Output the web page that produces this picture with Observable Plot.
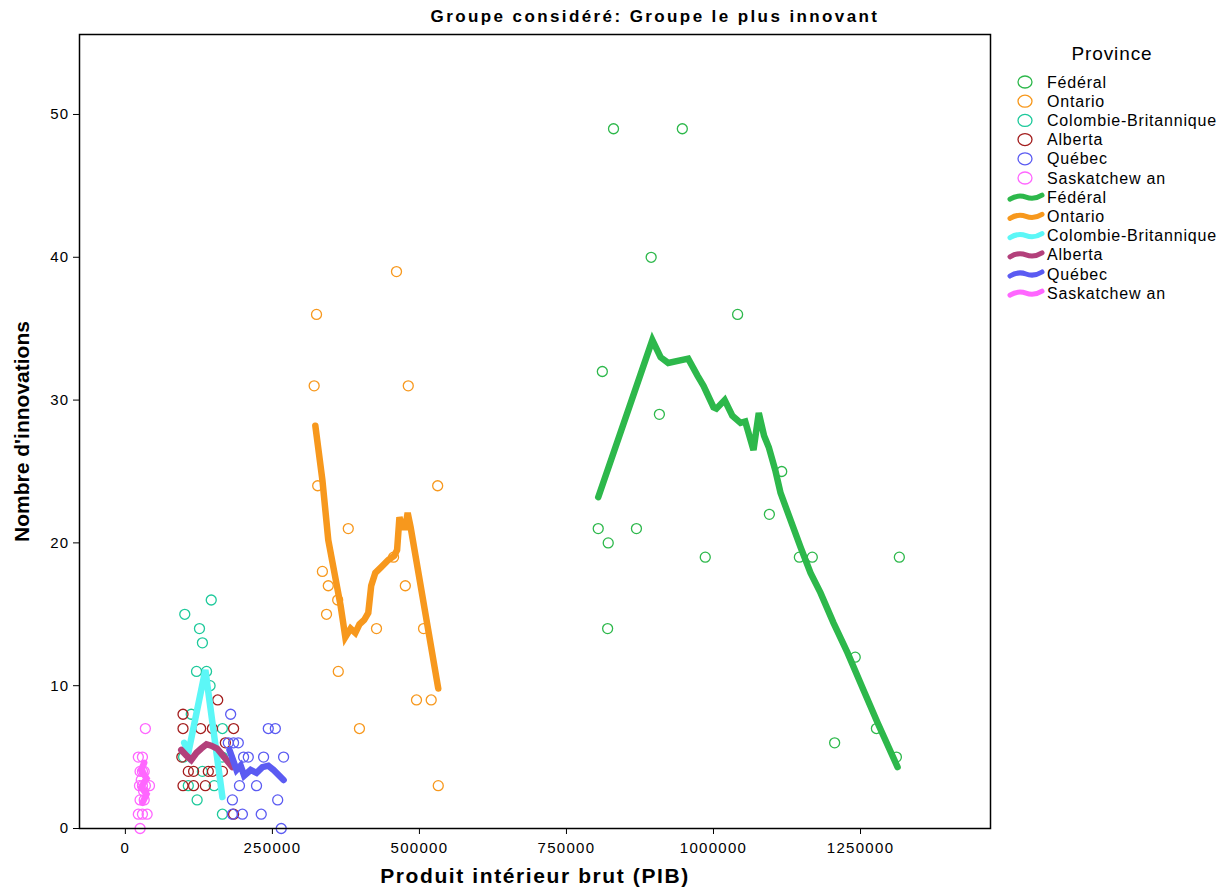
<!DOCTYPE html>
<html>
<head>
<meta charset="utf-8">
<script src="https://cdn.jsdelivr.net/npm/d3@7"></script>
<script src="https://cdn.jsdelivr.net/npm/@observablehq/plot@0.6"></script>
<style>
  html, body { margin: 0; padding: 0; background: white; }
  #wrap { position: relative; width: 1222px; height: 896px; font-family: "Liberation Sans", Arial, sans-serif; }
  #title { position: absolute; top: 7px; left: 355px; width: 600px; text-align: center; font-weight: bold; font-size: 17px; letter-spacing: 2.4px; }
  #legend { position: absolute; left: 0; top: 0; }
</style>
</head>
<body>
<div id="wrap">
  <div id="chart"></div>
  <div id="title">Groupe considéré: Groupe le plus innovant</div>
  <svg id="legend" width="1222" height="320"></svg>
</div>
<script>
// ---- Data ----
const provinces = ["Fédéral", "Ontario", "Colombie-Britannique", "Alberta", "Québec", "Saskatchewan"];
const legendLabels = ["Fédéral", "Ontario", "Colombie-Britannique", "Alberta", "Québec", "Saskatchew an"];
const dotColors = ["#2DB84B", "#F7981D", "#1DC99B", "#A31D1D", "#5B5BF2", "#FF66FF"];
const lineColors = ["#2DB84B", "#F7981D", "#5CF7F7", "#B3407B", "#5B5BF2", "#FF66FF"];

const xTicks = [0, 250000, 500000, 750000, 1000000, 1250000];
const yTicks = [0, 10, 20, 30, 40, 50];

// observed points [PIB, innovations]
const fedPoints = [[830000,49],[947000,49],[894000,40],[1041000,36],[811000,32],[908000,29],[1116000,25],[1095000,22],[804000,21],[869000,21],[821000,20],[986000,19],[1146000,19],[1168000,19],[1316000,19],[820000,14],[1241000,12],[1277000,7],[1206000,6],[1311000,5]];
const ontPoints = [[461000,39],[325000,36],[321000,31],[481000,31],[327000,24],[531000,24],[379000,21],[456000,19],[335000,18],[345000,17],[476000,17],[361000,16],[342000,15],[427000,14],[507000,14],[362000,11],[495000,9],[520000,9],[398000,7],[532000,3]];
const cbPoints = [[146000,16],[101000,15],[126000,14],[131000,13],[121000,11],[138000,11],[144000,10],[112000,8],[165000,7],[99000,5],[131000,4],[151000,3],[122000,2],[165000,1],[107000,3],[165000,5]];
const abPoints = [[157000,9],[98000,8],[98000,7],[128000,7],[148000,7],[184000,7],[170000,6],[96000,5],[107000,4],[116000,4],[141000,4],[148000,4],[165000,4],[98000,3],[116000,3],[136000,3],[184000,1]];
const qcPoints = [[179000,8],[243000,7],[255000,7],[175000,6],[184000,6],[192000,6],[201000,5],[209000,5],[235000,5],[269000,5],[194000,3],[223000,3],[182000,2],[259000,2],[182000,1],[199000,1],[231000,1],[265000,0]];
const skPoints = [[34000,7],[22000,5],[29000,5],[25000,4],[29000,4],[32000,4],[24000,3],[29000,3],[34000,3],[41000,3],[25000,2],[32000,2],[22000,1],[29000,1],[37000,1],[25000,0],[27000,3.4],[31000,2.6]];

// fitted curves [PIB, innovations]
const fedLine = [[804000,23.2],[896000,34.2],[910000,33.0],[923000,32.6],[957000,32.9],[973000,31.7],[983000,31.0],[1000000,29.5],[1005000,29.4],[1019000,30.0],[1032000,28.9],[1046000,28.4],[1054000,28.5],[1068000,26.5],[1077000,29.1],[1086000,27.5],[1094000,26.7],[1105000,25.1],[1114000,23.5],[1148000,19.7],[1165000,17.9],[1182000,16.5],[1204000,14.4],[1228000,12.3],[1255000,9.7],[1279000,7.4],[1313000,4.3]];
const ontLine = [[323000,28.2],[335000,24.4],[345000,20.2],[366000,15.6],[374000,13.4],[383000,14.0],[391000,13.7],[398000,14.3],[406000,14.6],[413000,15.1],[418000,17.0],[425000,17.9],[435000,18.3],[447000,18.8],[457000,19.1],[462000,19.5],[466000,21.8],[471000,21.1],[476000,21.1],[480000,22.1],[485000,21.1],[532000,9.8]];
const cbLine = [[100000,6.0],[107000,5.3],[136000,11.1],[165000,2.2]];
const abLine = [[95000,5.5],[104000,5.1],[112000,4.8],[121000,5.3],[129000,5.6],[138000,5.9],[146000,5.8],[156000,5.6],[168000,5.0],[182000,4.3]];
const qcLine = [[177000,5.5],[189000,4.1],[196000,4.4],[202000,3.7],[213000,4.1],[223000,3.9],[233000,4.3],[243000,4.4],[252000,4.1],[269000,3.4]];
const skLine = [[32000,4.6],[27000,4.1],[36000,3.5],[27000,2.9],[36000,2.4],[29000,1.8]];

// ---- build tables ----
const pointSets = [fedPoints, ontPoints, cbPoints, abPoints, qcPoints, skPoints];
const lineSets = [fedLine, ontLine, cbLine, abLine, qcLine, skLine];
const dots = pointSets.flatMap((pts, i) => pts.map(([x, y]) => ({x, y, p: provinces[i], c: dotColors[i]})));
const lines = lineSets.flatMap((pts, i) => pts.map(([x, y]) => ({x, y, p: provinces[i], c: lineColors[i]})));

const xLabel = "Produit intérieur brut (PIB)";
const yLabel = "Nombre d'innovations";

const chart = Plot.plot({
  width: 1222,
  height: 896,
  marginLeft: 79,
  marginRight: 232,
  marginTop: 34,
  marginBottom: 68,
  style: {fontFamily: "'Liberation Sans', Arial, sans-serif", fontSize: "15px", background: "white", color: "black", letterSpacing: "1.3px"},
  x: {domain: [-78000, 1471000], ticks: xTicks, tickFormat: d3.format("d"), label: null, tickSize: 6, tickPadding: 8},
  y: {domain: [0, 55.6], ticks: yTicks, label: null, tickSize: 6, tickPadding: 4},
  marks: [
    Plot.dot(dots, {x: "x", y: "y", stroke: "c", r: 5, strokeWidth: 1.3, fill: "none"}),
    Plot.line(lines, {x: "x", y: "y", z: "p", stroke: "c", strokeWidth: 6.5, strokeLinejoin: "miter", strokeMiterlimit: 4}),
    Plot.frame({stroke: "black", strokeWidth: 1.5}),
    Plot.text([xLabel], {frameAnchor: "bottom", textAnchor: "middle", dy: 54, fontSize: 21, fontWeight: "bold"}),
    Plot.text([yLabel], {frameAnchor: "left", textAnchor: "middle", dx: -57, rotate: -90, fontSize: 21, fontWeight: "bold"})
  ]
});
document.getElementById("chart").appendChild(chart);
d3.select(chart).selectAll("text").each(function() {
  const t = d3.select(this).text();
  if (t === xLabel) d3.select(this).attr("letter-spacing", "1.6px");
  if (t === yLabel) d3.select(this).attr("letter-spacing", "0px");
});

// ---- legend ----
const lg = d3.select("#legend");
lg.append("text").attr("x", 1112).attr("y", 60).attr("text-anchor", "middle")
  .attr("font-size", 19).attr("letter-spacing", "0.9px")
  .attr("font-family", "'Liberation Sans', Arial, sans-serif").text("Province");
const rows = [];
provinces.forEach((p, i) => rows.push({type: "dot", label: legendLabels[i], color: dotColors[i]}));
provinces.forEach((p, i) => rows.push({type: "line", label: legendLabels[i], color: lineColors[i]}));
rows.forEach((r, i) => {
  const y = 82 + i * 19.2;
  if (r.type === "dot") {
    lg.append("ellipse").attr("cx", 1025).attr("cy", y).attr("rx", 7).attr("ry", 6)
      .attr("fill", "none").attr("stroke", r.color).attr("stroke-width", 1.3);
  } else {
    lg.append("path").attr("d", `M1010,${y + 2} Q1018,${y - 3} 1026,${y} T1042,${y - 2}`)
      .attr("fill", "none").attr("stroke", r.color).attr("stroke-width", 5).attr("stroke-linecap", "round");
  }
  lg.append("text").attr("x", 1047).attr("y", y + 5.5)
    .attr("font-size", 16).attr("letter-spacing", "0.8px")
    .attr("font-family", "'Liberation Sans', Arial, sans-serif").text(r.label);
});
</script>
</body>
</html>
